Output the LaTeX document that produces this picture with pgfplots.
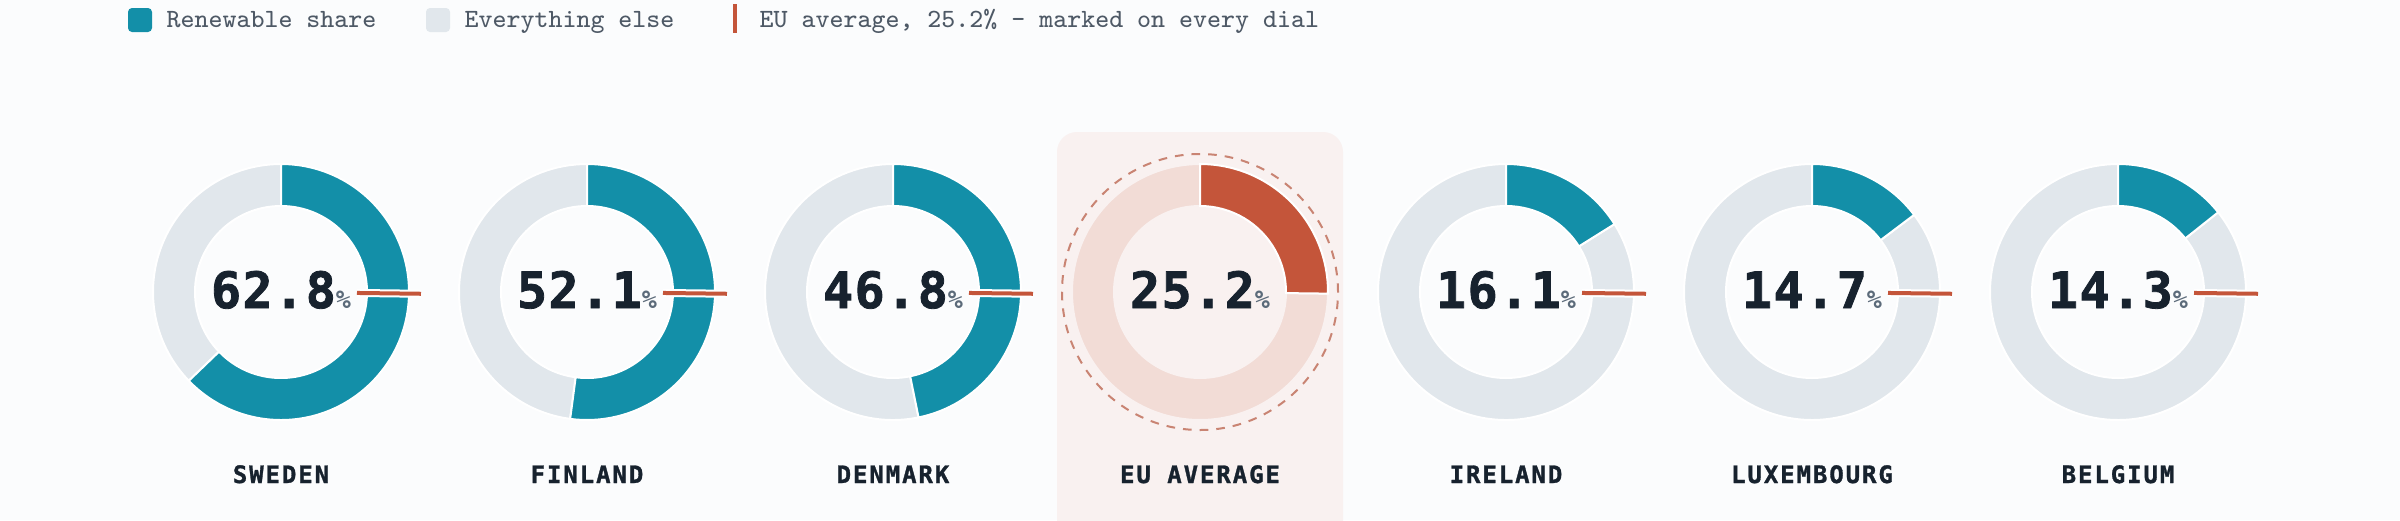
\documentclass[border=0pt]{standalone}
\usepackage{pgfplots}
\pgfplotsset{compat=1.18}
\usepackage{fontspec}
\newfontfamily\numfam{DejaVu Sans Mono Bold}[FakeBold=1.6, LetterSpace=3]
\newfontfamily\labfam{DejaVu Sans Mono Bold}[FakeBold=1.2, LetterSpace=8]
\newfontfamily\pctfam{DejaVu Sans Mono Bold}

\definecolor{bgc}{HTML}{FBFCFD}
\definecolor{teal}{HTML}{138FA8}
\definecolor{ringgray}{HTML}{E1E7EC}
\definecolor{eured}{HTML}{C4553A}
\definecolor{eupale}{HTML}{F2DCD6}
\definecolor{eupanel}{HTML}{F9F1F0}
\definecolor{dashc}{HTML}{C98473}
\definecolor{ink}{HTML}{17222E}
\definecolor{pctc}{HTML}{5C6B7A}
\definecolor{legc}{HTML}{4E5966}

% 1 px of the reference = 0.3pt
\def\Ro{38.4pt}   % outer radius 128px
\def\Ri{25.8pt}   % inner radius 86px
\def\EU{25.2}

% #1 centre x, #2 renewable share, #3 name
\newcommand{\dial}[3]{%
  \fill[ringgray, draw=white, line width=0.6pt, shift={(axis cs:#1,292)}]
    ({90-3.6*#2}:\Ro) arc[start angle={90-3.6*#2}, end angle=-270, radius=\Ro]
    -- (-270:\Ri) arc[start angle=-270, end angle={90-3.6*#2}, radius=\Ri] -- cycle;
  \fill[teal, draw=white, line width=0.6pt, shift={(axis cs:#1,292)}]
    (90:\Ro) arc[start angle=90, end angle={90-3.6*#2}, radius=\Ro]
    -- ({90-3.6*#2}:\Ri) arc[start angle={90-3.6*#2}, end angle=90, radius=\Ri] -- cycle;
  \draw[white, line width=2.4pt, shift={(axis cs:#1,292)}]
    ({90-3.6*\EU}:22.8pt) -- ({90-3.6*\EU}:42pt);
  \draw[eured, line width=1.2pt, shift={(axis cs:#1,292)}]
    ({90-3.6*\EU}:22.8pt) -- ({90-3.6*\EU}:42pt);
  \node[anchor=base, inner sep=0, text=ink] at (axis cs:#1,308)
    {\numfam\fontsize{15}{15}\selectfont #2\pctfam\fontsize{7.5}{7.5}\selectfont\textcolor{pctc}{\%}};
  \node[anchor=base, inner sep=0, text=ink] at (axis cs:#1,483)
    {\labfam\fontsize{7.2}{7.2}\selectfont #3};
}

\begin{document}
\begin{tikzpicture}
\begin{axis}[
    x=0.3pt, y=0.3pt,
    xmin=0, xmax=2400, ymin=0, ymax=520,
    y dir=reverse,
    hide axis, clip=false,
    anchor=south west, at={(0,0)}
]
\fill[bgc] (axis cs:0,0) rectangle (axis cs:2400,520);

% legend
\fill[teal, rounded corners=1.2pt] (axis cs:128,8) rectangle (axis cs:152,32);
\node[anchor=base west, inner sep=0, text=legc] at (axis cs:166,27)
  {\ttfamily\fontsize{7.9}{7.9}\selectfont Renewable share};
\fill[ringgray, rounded corners=1.2pt] (axis cs:426,8) rectangle (axis cs:450,32);
\node[anchor=base west, inner sep=0, text=legc] at (axis cs:464,27)
  {\ttfamily\fontsize{7.9}{7.9}\selectfont Everything else};
\fill[eured] (axis cs:733,4) rectangle (axis cs:737,33);
\node[anchor=base west, inner sep=0, text=legc] at (axis cs:759,27)
  {\ttfamily\fontsize{7.9}{7.9}\selectfont EU average, 25.2\% — marked on every dial};

% EU panel
\fill[eupanel, rounded corners=6pt] (axis cs:1057,132) rectangle (axis cs:1343,560);

\dial{281}{62.8}{SWEDEN}
\dial{587}{52.1}{FINLAND}
\dial{893}{46.8}{DENMARK}
\dial{1506}{16.1}{IRELAND}
\dial{1812}{14.7}{LUXEMBOURG}
\dial{2118}{14.3}{BELGIUM}

% EU average dial
\fill[eupale, draw=eupanel, line width=0.6pt, shift={(axis cs:1200,292)}]
  ({90-3.6*\EU}:\Ro) arc[start angle={90-3.6*\EU}, end angle=-270, radius=\Ro]
  -- (-270:\Ri) arc[start angle=-270, end angle={90-3.6*\EU}, radius=\Ri] -- cycle;
\fill[eured, draw=white, line width=0.6pt, shift={(axis cs:1200,292)}]
  (90:\Ro) arc[start angle=90, end angle={90-3.6*\EU}, radius=\Ro]
  -- ({90-3.6*\EU}:\Ri) arc[start angle={90-3.6*\EU}, end angle=90, radius=\Ri] -- cycle;
\draw[dashc, line width=0.6pt, dash pattern=on 2.6pt off 2.4pt]
  (axis cs:1200,292) circle[radius=41.4pt];
\node[anchor=base, inner sep=0, text=ink] at (axis cs:1200,308)
  {\numfam\fontsize{15}{15}\selectfont 25.2\pctfam\fontsize{7.5}{7.5}\selectfont\textcolor{pctc}{\%}};
\node[anchor=base, inner sep=0, text=ink] at (axis cs:1200,483)
  {\labfam\fontsize{7.2}{7.2}\selectfont EU AVERAGE};
\end{axis}
\pgfresetboundingbox
\path[use as bounding box] (current axis.south west) rectangle (current axis.north east);
\end{tikzpicture}
\end{document}
